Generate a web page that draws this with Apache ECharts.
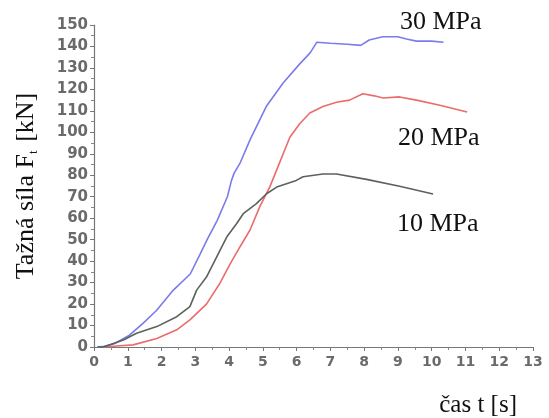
<!DOCTYPE html>
<html><head><meta charset="utf-8">
<script src="https://cdn.jsdelivr.net/npm/echarts@6/dist/echarts.min.js"></script>
<style>html,body{margin:0;padding:0;background:#fff}#c{width:549px;height:418px}</style>
</head><body><div id="c"></div>
<script>
const xTicks = [0,1,2,3,4,5,6,7,8,9,10,11,12,13];
const seriesNames = ['30 MPa','20 MPa','10 MPa'];
const t30 = [0.1,0.3,0.6,1.05,1.45,1.85,2.35,2.85,3.15,3.35,3.65,3.95,4.07,4.15,4.32,4.62,5.1,5.6,6.1,6.4,6.6,7.0,7.5,7.9,8.15,8.55,9.0,9.25,9.55,10.0,10.35];
const f30 = [0,0.3,1.5,5.5,11,17,26.5,34,43.5,50,59,70,77.5,81,85.5,96.5,112,123,132,137,142,141.5,141,140.5,143,144.5,144.5,143.5,142.5,142.5,142];
const t20 = [0.3,0.67,1.16,1.86,2.45,2.84,3.33,3.73,4.02,4.32,4.62,4.91,5.21,5.5,5.8,6.09,6.39,6.78,7.18,7.57,7.96,8.3,8.56,9.05,9.55,10.24,11.05];
const f20 = [0,0.5,1,4,8,12.6,20,29.7,38.4,46.6,54.5,65.4,74.7,86,97.7,104,109,112,114,115,118,117,116,116.5,115,112.6,109.5];
const t10 = [0.1,0.28,0.87,1.26,1.86,2.45,2.84,3.04,3.33,3.63,3.93,4.22,4.42,4.81,5.11,5.41,5.99,6.19,6.78,7.18,8.07,9.05,10.04];
const f10 = [0,0,3.3,6.4,9.5,14.1,18.8,26.5,32.6,41.9,51.2,57.4,62.1,66.8,71.4,74.5,77.6,79.3,80.6,80.6,78.1,74.9,71.3];
const zip = (a,b)=>a.map((v,i)=>[v,b[i]]);
const colors = ['#7b7bea','#ec6b6b','#5b625b'];
const chart = echarts.init(document.getElementById('c'));
const serif = 'Liberation Serif';
const tickLabel = {fontFamily:'DejaVu Sans', fontWeight:'bold', fontSize:14, color:'#6a6a6a'};
chart.setOption({
  animation:false,
  grid:{left:94,right:16,top:25,bottom:71},
  xAxis:{type:'value',min:0,max:13,interval:1,
    name:'čas t [s]',nameLocation:'end',nameGap:0,
    nameTextStyle:{fontFamily:serif,fontSize:25,color:'#111',align:'right',verticalAlign:'top',padding:[46,16,0,0]},
    axisLine:{lineStyle:{color:'#777',width:1.2}},
    axisTick:{show:true,length:4,lineStyle:{color:'#777'}},
    minorTick:{show:true,splitNumber:2,length:3,lineStyle:{color:'#888'}},
    splitLine:{show:false},
    axisLabel:Object.assign({margin:8,formatter:v=>xTicks.includes(v)?String(v):''},tickLabel)},
  yAxis:{type:'value',min:0,max:150,interval:10,
    name:'{m|Tažná síla F}{s|t}{m| [kN]}',nameLocation:'middle',nameRotate:90,nameGap:54,
    nameTextStyle:{rich:{m:{fontFamily:serif,fontSize:26,color:'#111'},s:{fontFamily:serif,fontSize:13,color:'#111',padding:[14,2,0,0]}}},
    axisLine:{show:true,lineStyle:{color:'#777',width:1.2}},
    axisTick:{show:true,length:4,lineStyle:{color:'#777'}},
    minorTick:{show:true,splitNumber:2,length:3,lineStyle:{color:'#888'}},
    splitLine:{show:false},
    axisLabel:Object.assign({},tickLabel,{margin:6,fontSize:15})},
  series:[
    {name:seriesNames[0],type:'line',data:zip(t30,f30),showSymbol:false,lineStyle:{color:colors[0],width:1.6},z:3},
    {name:seriesNames[1],type:'line',data:zip(t20,f20),showSymbol:false,lineStyle:{color:colors[1],width:1.6},z:2},
    {name:seriesNames[2],type:'line',data:zip(t10,f10),showSymbol:false,lineStyle:{color:colors[2],width:1.6},z:4}
  ],
  graphic:[
    {type:'text',left:400,top:9,style:{text:seriesNames[0],font:'26px "Liberation Serif"',fill:'#111'}},
    {type:'text',left:398,top:125,style:{text:seriesNames[1],font:'26px "Liberation Serif"',fill:'#111'}},
    {type:'text',left:397,top:211,style:{text:seriesNames[2],font:'26px "Liberation Serif"',fill:'#111'}}
  ]
});
</script></body></html>
